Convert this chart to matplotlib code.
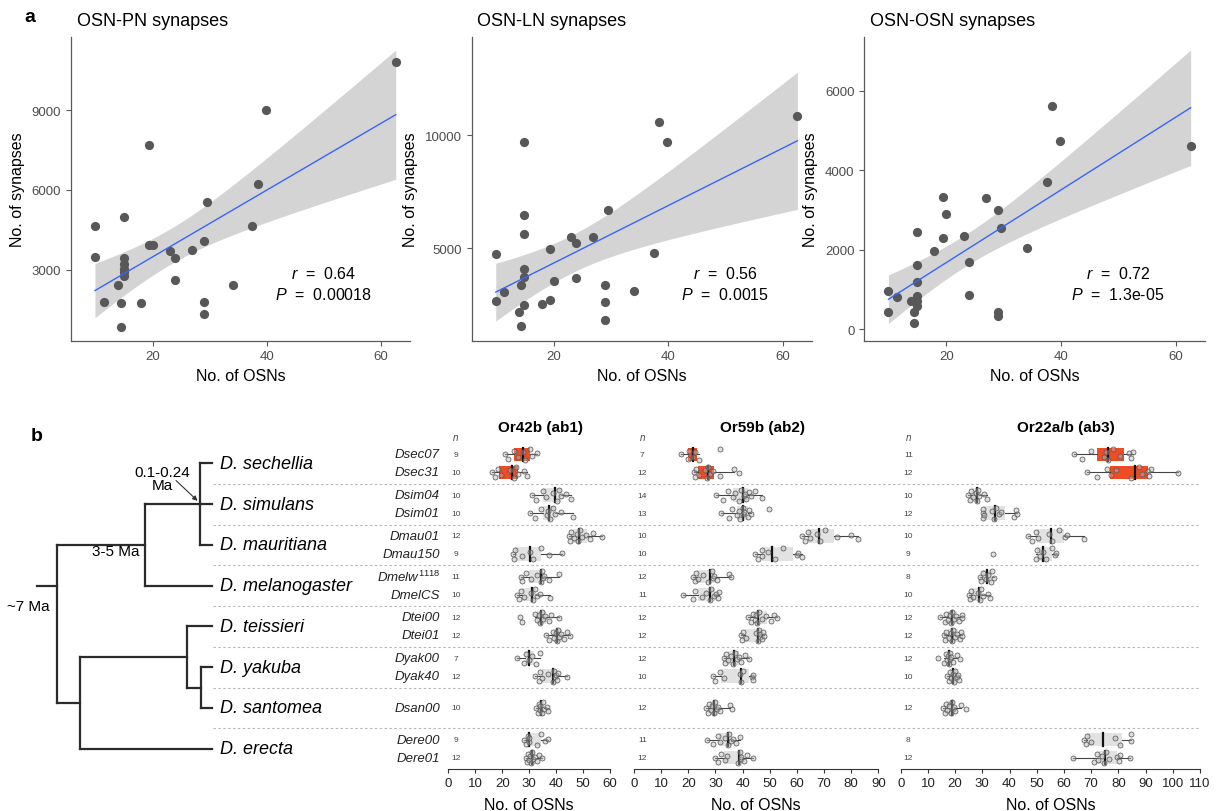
import numpy as np
import matplotlib
matplotlib.use('Agg')
import matplotlib.pyplot as plt

plt.rcParams['font.family'] = ['Liberation Sans', 'DejaVu Sans']
plt.rcParams['mathtext.fontset'] = 'custom'
plt.rcParams['mathtext.rm'] = 'Liberation Sans'
plt.rcParams['mathtext.it'] = 'Liberation Sans:italic'
plt.rcParams['mathtext.bf'] = 'Liberation Sans:bold'

# ---------------- panel a: synapses vs number of OSNs ----------------
osn_counts = [62.6, 39.8, 38.5, 37.5, 34.0, 29.5, 29.0, 29.0, 29.0, 26.9, 24.0, 24.0, 23.0, 20.0,
              19.4, 19.4, 17.9, 14.9, 14.9, 14.9, 14.9, 14.9, 14.9, 14.4, 14.4, 13.9, 11.4, 9.9, 9.9]
pn_syn = [10812, 9000, 6225, 4625, 2412, 5525, 4075, 1775, 1337, 3725, 3425, 2600, 3712, 3937,
          7700, 3912, 1725, 4975, 3437, 3225, 3037, 2900, 2762, 1737, 837, 2412, 1787, 4637, 3475]
ln_syn = [10853, 9676, 10588, 4794, 3118, 6676, 3397, 2618, 1853, 5500, 5235, 3690, 5500, 3574,
          4956, 2706, 2559, 9706, 6470, 5632, 4088, 3720, 2500, 3397, 1559, 2206, 3059, 4737, 2662]
osn_syn = [4614, 4740, 5621, 3700, 2039, 2534, 3003, 436, 336, 3297, 1686, 847, 2341, 2903,
           3322, 2282, 1972, 2441, 1602, 1183, 822, 700, 579, 428, 143, 705, 805, 956, 428]
scatter_titles = ['OSN-PN synapses', 'OSN-LN synapses', 'OSN-OSN synapses']
r_labels = ['0.64', '0.56', '0.72']
p_labels = ['0.00018', '0.0015', '1.3e-05']
y_ticks = [[3000, 6000, 9000], [5000, 10000], [0, 2000, 4000, 6000]]

# ---------------- panel b: OSN counts per strain ----------------
species = ['D. sechellia', 'D. simulans', 'D. mauritiana', 'D. melanogaster',
           'D. teissieri', 'D. yakuba', 'D. santomea', 'D. erecta']
strains = ['Dsec07', 'Dsec31', 'Dsim04', 'Dsim01', 'Dmau01', 'Dmau150', r'$\mathit{Dmelw}^{\mathit{1118}}$',
           'DmelCS', 'Dtei00', 'Dtei01', 'Dyak00', 'Dyak40', 'Dsan00', 'Dere00', 'Dere01']
strain_species = [0, 0, 1, 1, 2, 2, 3, 3, 4, 4, 5, 5, 6, 7, 7]
highlight = [True, True] + [False] * 13

or42b = [
    [21.0, 22.0, 24.5, 26.0, 27.6, 28.5, 30.3, 31.0, 32.8],
    [16.1, 17.5, 18.5, 19.5, 23.0, 24.4, 25.0, 26.0, 28.0, 29.1],
    [30.9, 32.5, 35.0, 36.2, 38.7, 40.5, 41.2, 42.0, 43.8, 45.4],
    [30.3, 32.0, 34.5, 36.5, 37.0, 37.8, 39.0, 39.7, 42.0, 46.1],
    [44.9, 45.3, 45.5, 46.5, 47.7, 48.3, 48.9, 49.7, 51.0, 52.5, 53.8, 56.9],
    [24.1, 24.5, 24.7, 27.5, 30.5, 31.3, 34.4, 37.5, 42.1],
    [26.8, 27.5, 29.0, 30.8, 33.0, 34.4, 34.8, 35.0, 35.6, 37.5, 41.2],
    [25.6, 26.3, 27.0, 28.0, 30.8, 31.6, 32.0, 32.8, 34.0, 37.7],
    [26.6, 27.2, 32.0, 33.0, 33.8, 34.2, 34.6, 35.2, 36.0, 37.5, 38.0, 41.0],
    [36.1, 37.5, 38.8, 39.2, 39.8, 40.2, 40.6, 41.0, 41.8, 43.0, 44.0, 45.1],
    [25.4, 28.0, 28.8, 30.0, 31.0, 32.5, 34.0],
    [32.2, 33.5, 34.0, 34.8, 37.0, 38.8, 39.2, 39.5, 39.8, 40.5, 40.8, 43.9],
    [32.4, 33.2, 33.5, 33.9, 34.2, 34.6, 35.0, 35.6, 36.5, 37.1],
    [28.1, 28.8, 29.7, 30.0, 30.1, 33.0, 34.4, 36.0, 37.1],
    [28.8, 29.2, 29.6, 30.0, 30.5, 30.7, 31.1, 31.6, 32.0, 32.8, 33.5, 34.7],
]
or59b = [
    [17.3, 19.8, 20.2, 21.6, 22.6, 24.0, 31.7],
    [22.2, 22.5, 23.0, 24.0, 26.0, 26.8, 27.4, 28.0, 29.0, 31.5, 37.0, 38.7],
    [30.2, 32.9, 34.8, 36.4, 37.2, 38.5, 39.6, 40.4, 40.8, 41.4, 42.3, 43.0, 44.5, 47.0],
    [32.0, 35.1, 36.0, 37.8, 38.5, 39.2, 40.0, 40.3, 40.7, 41.9, 42.5, 43.0, 49.9],
    [62.0, 63.0, 64.0, 65.0, 67.5, 68.7, 70.5, 74.8, 80.0, 82.4],
    [44.6, 45.5, 47.0, 47.2, 49.5, 51.9, 55.0, 60.0, 60.5, 61.8],
    [21.9, 22.5, 23.0, 23.5, 25.5, 27.3, 28.7, 29.0, 29.5, 30.5, 35.0, 35.7],
    [18.2, 21.9, 22.5, 24.9, 26.5, 28.0, 28.5, 29.3, 30.3, 30.8, 31.3],
    [42.1, 43.0, 43.8, 44.6, 45.0, 45.3, 45.9, 47.0, 48.5, 50.4, 51.5, 52.5],
    [39.4, 39.7, 40.2, 41.2, 44.8, 45.5, 46.1, 46.3, 46.6, 47.0, 47.4, 47.8],
    [33.0, 33.6, 34.0, 34.8, 35.8, 36.4, 37.2, 37.8, 38.6, 39.6, 41.0, 42.5],
    [29.2, 29.8, 31.6, 33.0, 39.0, 39.6, 40.0, 43.3, 43.8, 44.0],
    [26.4, 27.1, 27.8, 28.3, 28.8, 29.3, 29.9, 30.4, 30.9, 31.8, 35.4, 36.2],
    [26.8, 29.2, 31.1, 31.8, 33.5, 34.7, 35.0, 35.6, 36.4, 37.5, 39.0],
    [29.8, 31.1, 32.0, 33.5, 34.2, 38.4, 39.0, 39.3, 39.6, 40.4, 41.8, 44.0],
]
or22ab = [
    [63.7, 66.5, 70.0, 74.6, 75.5, 76.3, 78.0, 80.5, 83.9, 84.5, 85.5],
    [68.6, 72.3, 75.7, 77.3, 79.2, 84.5, 87.7, 88.5, 90.9, 91.4, 92.0, 102.0],
    [24.9, 25.5, 26.0, 26.5, 27.6, 28.2, 28.4, 28.8, 30.6, 31.8],
    [30.2, 30.3, 30.4, 30.6, 33.4, 34.2, 35.2, 36.0, 37.0, 41.8, 42.2, 42.6],
    [46.7, 48.1, 49.8, 50.3, 54.6, 55.6, 58.2, 60.4, 61.0, 67.4],
    [33.8, 49.7, 50.0, 51.2, 52.2, 53.5, 55.5, 56.7, 57.0],
    [29.2, 29.6, 30.2, 31.5, 32.1, 33.3, 33.7, 34.3],
    [25.2, 25.5, 25.9, 26.6, 28.5, 29.3, 29.6, 30.2, 32.0, 32.8],
    [14.5, 16.2, 16.8, 17.4, 18.0, 18.4, 19.0, 19.6, 20.3, 21.3, 22.4, 22.6],
    [15.9, 16.3, 16.8, 17.8, 18.5, 18.8, 19.2, 20.1, 20.8, 21.8, 22.0, 22.4],
    [13.8, 15.8, 16.5, 17.0, 17.4, 17.7, 18.1, 18.3, 18.6, 19.2, 20.6, 21.8],
    [16.9, 17.8, 18.2, 18.6, 19.2, 19.6, 20.0, 20.7, 21.2, 21.6],
    [15.6, 16.2, 16.6, 17.2, 17.8, 18.5, 18.9, 19.2, 19.5, 20.0, 22.0, 24.0],
    [67.2, 68.0, 68.5, 69.8, 78.6, 80.5, 84.5, 84.8],
    [63.4, 71.2, 72.0, 72.6, 74.0, 74.8, 75.4, 76.5, 79.4, 80.2, 80.5, 84.3],
]
receptor_titles = ['Or42b (ab1)', 'Or59b (ab2)', 'Or22a/b (ab3)']
receptor_xmax = [60, 90, 110]

# phylogeny: (node depth, children); integers are species indices, leaves sit at depth 1
tree = (0.0, [(0.57, [(0.92, [0, 1, 2]), 3]),
              (0.15, [(0.84, [4, (0.93, [5, 6])]), 7])])

RED = '#EF4B24'
BOXGRAY = '#E2E2E2'
DARK = '#4D4D4D'

W, H = 1217, 812
fig = plt.figure(figsize=(W / 100, H / 100), dpi=100)


def fx(px):
    return px / W


def fy(py):
    return 1 - py / H


# ---------------- panel a ----------------
top_left = [71, 471.7, 864.3]
top_width = [339, 340, 340.7]
ylims = [(321, 11755), (922, 14325), (-294, 7352)]
syn_sets = [pn_syn, ln_syn, osn_syn]
x = np.array(osn_counts)
for i in range(3):
    ax = fig.add_axes([fx(top_left[i]), fy(341.7), top_width[i] / W, (341.7 - 38) / H])
    y = np.array(syn_sets[i], dtype=float)
    n = len(x)
    slope, icpt = np.polyfit(x, y, 1)
    xs = np.linspace(x.min(), x.max(), 120)
    fit = icpt + slope * xs
    resid = y - (icpt + slope * x)
    s = np.sqrt(np.sum(resid ** 2) / (n - 2))
    se = s * np.sqrt(1 / n + (xs - x.mean()) ** 2 / np.sum((x - x.mean()) ** 2))
    t = 2.052
    ax.fill_between(xs, fit - t * se, fit + t * se, color='#D4D4D4', lw=0, zorder=1)
    ax.scatter(x, y, s=44, color='#585858', lw=0, zorder=2)
    ax.plot(xs, fit, color='#3366FF', lw=1.0, zorder=3)

    ax.set_xlim(5.7, 65.1)
    ax.set_ylim(*ylims[i])
    ax.set_xticks([20, 40, 60])
    ax.set_yticks(y_ticks[i])
    for sp in ['top', 'right']:
        ax.spines[sp].set_visible(False)
    for sp in ['left', 'bottom']:
        ax.spines[sp].set_color('#5a5a5a')
        ax.spines[sp].set_linewidth(0.9)
    ax.tick_params(colors='#5a5a5a', labelcolor=DARK, labelsize=9.5, length=3.5, width=0.8)
    ax.set_xlabel('No. of OSNs', fontsize=11.5, labelpad=4)
    ax.set_ylabel('No. of synapses', fontsize=11.5, labelpad=5)
    ax.text(0.017, 1.053, scatter_titles[i], transform=ax.transAxes, fontsize=13,
            ha='left', va='center')
    ax.text(0.745, 0.224, r'$\mathit{r}$  =  ' + r_labels[i], transform=ax.transAxes,
            fontsize=11.5, ha='center', va='center')
    ax.text(0.745, 0.155, r'$\mathit{P}$  =  ' + p_labels[i], transform=ax.transAxes,
            fontsize=11.5, ha='center', va='center')

fig.text(fx(30), fy(17), 'a', fontsize=14, fontweight='bold', ha='center', va='center')
fig.text(fx(37), fy(437), 'b', fontsize=14, fontweight='bold', ha='center', va='center')

# ---------------- panel b background: tree, labels, separators ----------------
b_top, b_bot = 444, 770
n_groups = len(species)
axb = fig.add_axes([0, fy(b_bot), 1, (b_bot - b_top) / H])
axb.set_xlim(0, 1)
axb.set_ylim(n_groups, 0)
axb.axis('off')

row_y = []
for k, g in enumerate(strain_species):
    members = [j for j, gg in enumerate(strain_species) if gg == g]
    if len(members) == 1:
        row_y.append(g + 0.5)
    else:
        row_y.append(g + 0.5 + (-0.22 if members.index(k) == 0 else 0.22))

axb.hlines(np.arange(1, n_groups), fx(213), fx(1200), colors='#B8B8B8', lw=0.8,
           linestyles=(0, (2.2, 2.2)))


def tx(d):
    return fx(56.7 + d * 155.3)


tree_kw = dict(color='#2b2b2b', lw=1.6, solid_capstyle='projecting')


def draw_clade(node):
    if isinstance(node, int):
        return node + 0.5, 1.0
    depth, kids = node
    pos = [draw_clade(kd) for kd in kids]
    ys = [p[0] for p in pos]
    for yk, dk in pos:
        axb.plot([tx(depth), tx(dk)], [yk, yk], **tree_kw)
    axb.plot([tx(depth), tx(depth)], [min(ys), max(ys)], **tree_kw)
    return (ys[0] + ys[-1]) / 2, depth


draw_clade(tree)
axb.plot([tx(-0.13), tx(0.0)], [3.5, 3.5], **tree_kw)

for g, sp_name in enumerate(species):
    axb.text(fx(220), g + 0.5, sp_name, fontsize=13, fontstyle='italic', ha='left', va='center')

axb.text(fx(28.7), 4.0, '~7 Ma', fontsize=11, ha='center', va='center')
axb.text(fx(140), 2.64, '3-5 Ma', fontsize=11, ha='right', va='center')
axb.text(fx(162), 0.87, '0.1-0.24\nMa', fontsize=11, ha='center', va='center', linespacing=0.95)
axb.annotate('', xy=(tx(0.92) - fx(2), 1.42), xytext=(fx(176), 0.92),
             arrowprops=dict(arrowstyle='-|>', color='#333333', lw=0.8, mutation_scale=7,
                             shrinkA=0, shrinkB=0))

for k, lab in enumerate(strains):
    axb.text(fx(440), row_y[k], lab, fontsize=9.5, fontstyle='italic', ha='right', va='center',
             color='#222222')

# ---------------- panel b box plots ----------------
box_left = [448.3, 634.0, 900.7]
box_right = [610.0, 878.3, 1200.0]
n_col_x = [456, 642.3, 908.3]
title_frac = [0.568, 0.528, 0.551]
datasets = [or42b, or59b, or22ab]
jitter = [0.0, 0.75, -0.6, 0.35, -0.3, 0.85, -0.85, 0.2, -0.15, 0.55, -0.45, 0.1, -0.7, 0.45]
box_h = 0.33

for p in range(3):
    ax = fig.add_axes([fx(box_left[p]), fy(b_bot), (box_right[p] - box_left[p]) / W,
                       (b_bot - b_top) / H])
    ax.patch.set_alpha(0)
    ax.set_xlim(0, receptor_xmax[p])
    ax.set_ylim(n_groups, 0)
    ax.set_yticks([])
    for sp in ['top', 'right', 'left']:
        ax.spines[sp].set_visible(False)
    ax.spines['bottom'].set_color('#333333')
    ax.spines['bottom'].set_linewidth(0.8)
    ax.set_xticks(np.arange(0, receptor_xmax[p] + 1, 10))
    ax.tick_params(axis='x', colors='#333333', labelcolor='#222222', labelsize=9.5,
                   length=3, width=0.8, pad=2.5)
    ax.set_xlabel('No. of OSNs', fontsize=11.5, labelpad=6)

    for k, vals in enumerate(datasets[p]):
        v = np.sort(np.array(vals))
        yc = row_y[k]
        q1, med, q3 = np.percentile(v, [25, 50, 75])
        iqr = q3 - q1
        lo = v[v >= q1 - 1.5 * iqr].min()
        hi = v[v <= q3 + 1.5 * iqr].max()
        fc = RED if highlight[k] else BOXGRAY
        ax.add_patch(plt.Rectangle((q1, yc - box_h / 2), q3 - q1, box_h, facecolor=fc,
                                   edgecolor='none', zorder=1))
        ax.plot([lo, q1], [yc, yc], color='#444444', lw=0.8, zorder=2)
        ax.plot([q3, hi], [yc, yc], color='#444444', lw=0.8, zorder=2)
        ax.plot([med, med], [yc - box_h / 2, yc + box_h / 2], color='#111111', lw=1.6, zorder=3)
        offs = np.array([jitter[j % len(jitter)] for j in range(len(v))]) * box_h / 2 * 0.95
        ax.plot(v, yc + offs, 'o', ms=3.6, mfc=(0.72, 0.72, 0.72, 0.45), mec='#5a5a5a',
                mew=0.55, zorder=4, clip_on=False)
        axb.text(fx(n_col_x[p]), yc, str(len(vals)), fontsize=6, ha='center', va='center',
                 color='#444444')

    axb.text(fx(n_col_x[p]), -0.15, 'n', fontsize=7, fontstyle='italic', ha='center',
             va='center', color='#444444')
    ax.text(title_frac[p], 1.0 + 16 / (b_bot - b_top), receptor_titles[p], transform=ax.transAxes,
            fontsize=11, fontweight='bold', ha='center', va='center')

fig.savefig('out.png', dpi=100)
